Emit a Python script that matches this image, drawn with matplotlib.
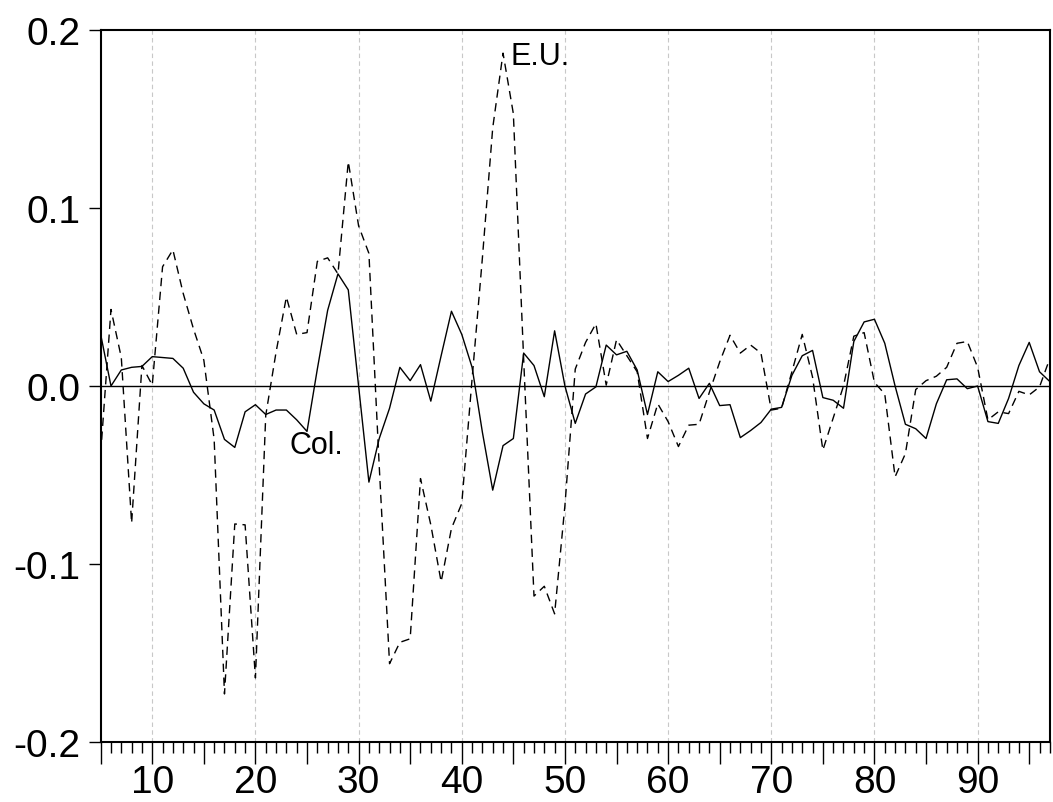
import numpy as np
import matplotlib.pyplot as plt
from matplotlib.ticker import MultipleLocator, FuncFormatter

plt.rcParams['font.family'] = ['Liberation Sans', 'DejaVu Sans']

# observaciones 5..97
obs = np.arange(5, 98)

# Colombia (linea continua)
col = [0.029, 0.000, 0.009, 0.0105, 0.011, 0.0165, 0.016, 0.0155, 0.010, -0.0035,
       -0.010, -0.0135, -0.030, -0.0345, -0.0145, -0.0105, -0.016, -0.0135, -0.0135, -0.019,
       -0.0255, 0.0095, 0.0425, 0.063, 0.054, 0.000, -0.054, -0.0295, -0.0125, 0.0105,
       0.003, 0.012, -0.0085, 0.017, 0.042, 0.029, 0.0105, -0.026, -0.0585, -0.0335,
       -0.0295, 0.0185, 0.0115, -0.006, 0.031, 0.000, -0.021, -0.0045, -0.0005, 0.023,
       0.0175, 0.0195, 0.009, -0.016, 0.008, 0.0025, 0.006, 0.010, -0.007, 0.0015,
       -0.011, -0.0105, -0.029, -0.025, -0.0205, -0.013, -0.012, 0.006, 0.017, 0.020,
       -0.0065, -0.008, -0.0125, 0.025, 0.036, 0.0375, 0.024, 0.000, -0.0215, -0.024,
       -0.0295, -0.010, 0.0035, 0.004, -0.0015, 0.000, -0.020, -0.021, -0.007, 0.0115,
       0.0245, 0.008, 0.0025]

# Estados Unidos (linea punteada)
eu = [-0.038, 0.043, 0.016, -0.077, 0.0115, 0.0005, 0.067, 0.0765, 0.052, 0.032,
      0.0145, -0.030, -0.173, -0.0775, -0.078, -0.164, -0.0165, 0.019, 0.050, 0.029,
      0.030, 0.070, 0.072, 0.063, 0.126, 0.090, 0.0745, -0.045, -0.156, -0.144,
      -0.142, -0.052, -0.078, -0.110, -0.080, -0.066, 0.004, 0.072, 0.145, 0.187,
      0.153, 0.015, -0.118, -0.1125, -0.128, -0.067, 0.0095, 0.0245, 0.035, 0.0005,
      0.026, 0.017, 0.008, -0.0295, -0.010, -0.020, -0.034, -0.022, -0.0215, -0.0035,
      0.0135, 0.0285, 0.0185, 0.023, 0.0185, -0.0135, -0.0125, 0.008, 0.029, 0.005,
      -0.036, -0.018, 0.000, 0.028, 0.030, 0.002, -0.0045, -0.051, -0.038, -0.002,
      0.003, 0.0055, 0.0105, 0.024, 0.025, 0.0105, -0.019, -0.0145, -0.0155, -0.003,
      -0.005, -0.0005, 0.0155]

yticks = [-0.2, -0.1, 0.0, 0.1, 0.2]

fig = plt.figure(figsize=(10.53, 8.03), dpi=100)
ax = fig.add_axes([0.0956, 0.0747, 0.9014, 0.8867])

# lineas verticales de referencia
for xv in range(10, 100, 10):
    ax.axvline(xv, color='#c8c8c8', lw=0.8, ls=(0, (4, 3)), zorder=0)
ax.axhline(0, color='black', lw=1.0, zorder=1)

ax.plot(obs, col, color='black', lw=1.0, zorder=3)
ax.plot(obs, eu, color='black', lw=1.0, ls=(0, (6, 4)), zorder=2)

ax.text(44.7, 0.181, 'E.U.', fontsize=22, ha='left', va='baseline')
ax.text(23.3, -0.0375, 'Col.', fontsize=22, ha='left', va='baseline')

ax.set_xlim(5, 97)
ax.set_ylim(-0.2, 0.2)
ax.set_yticks(yticks)
ax.yaxis.set_major_formatter(FuncFormatter(lambda v, p: '%.1f' % v))
ax.xaxis.set_major_locator(MultipleLocator(5))
ax.xaxis.set_minor_locator(MultipleLocator(1))
ax.xaxis.set_major_formatter(FuncFormatter(lambda v, p: '%d' % v if int(round(v)) % 10 == 0 else ''))

ax.tick_params(axis='y', direction='out', length=8.5, width=1.0, labelsize=28, pad=6)
ax.tick_params(axis='x', which='major', direction='out', length=16, width=1.0, labelsize=28, pad=0)
ax.tick_params(axis='x', which='minor', direction='out', length=8, width=1.0)

for s in ax.spines.values():
    s.set_linewidth(1.5)

fig.savefig('out.png', dpi=100)
